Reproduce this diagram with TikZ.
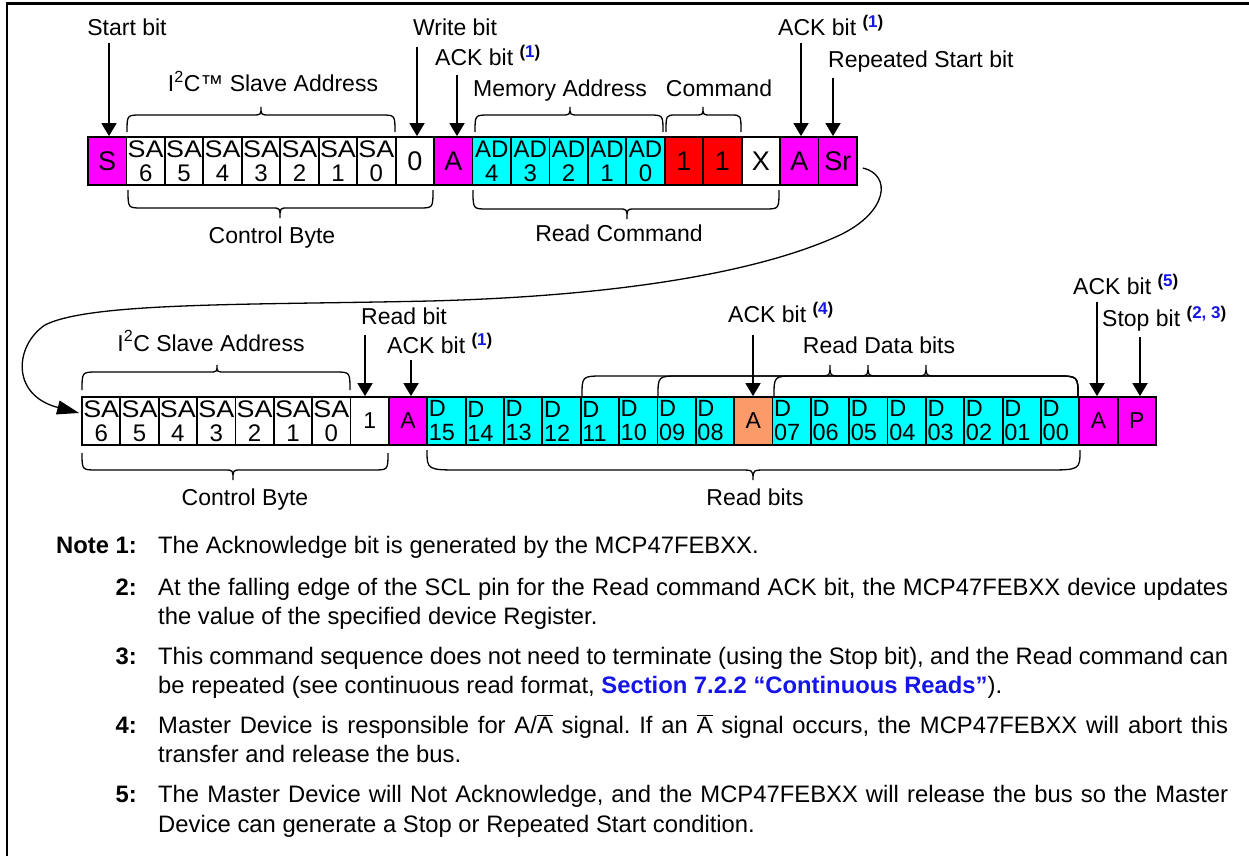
\documentclass[tikz,border=0pt]{standalone}
\usepackage{fontspec}
\usepackage{graphicx}
\setmainfont{Liberation Sans}
\usetikzlibrary{arrows.meta,calc}
\definecolor{mag}{RGB}{255,0,255}
\definecolor{cya}{RGB}{0,255,255}
\definecolor{rd}{RGB}{255,0,0}
\definecolor{org}{RGB}{250,155,105}
\definecolor{supblue}{RGB}{20,20,235}
\frenchspacing
\newcommand{\fs}[1]{\fontsize{#1}{#1}\selectfont}
\newcommand{\supn}[1]{\raisebox{8pt}{\fontsize{17}{17}\selectfont\bfseries(\textcolor{supblue}{#1})}}
\newcommand{\widetxt}[1]{\scalebox{1.12}[1]{#1}}
\newcommand{\abar}{\(\overline{\mbox{A}}\)}
% brace: x1 x2 xm yend yline ytip rx tx
\newcommand{\brc}[8]{\draw[brc] (#1,-#4) .. controls (#1,-#5) .. ({#1+#7},-#5) -- ({#3-#8},-#5) .. controls (#3,-#5) .. (#3,-#6) .. controls (#3,-#5) .. ({#3+#8},-#5) -- ({#2-#7},-#5) .. controls (#2,-#5) .. (#2,-#4);}
\begin{document}
\begin{tikzpicture}[x=1pt,y=1pt,
  cell/.style={draw, line width=1.8pt, minimum width=38.45pt, minimum height=48pt, inner sep=0pt, font=\fs{27}},
  cellb/.style={cell, minimum width=38.36pt, font=\fs{23}},
  two/.style={align=center, font=\fontsize{24}{24}\selectfont},
  dd/.style={align=left, text width=35pt, font=\fontsize{23.5}{24}\selectfont},
  lab/.style={inner sep=0pt, font=\fs{23}},
  note/.style={inner sep=0pt, font=\fontsize{23.8}{28}\selectfont},
  arr/.style={line width=1.8pt, -{Triangle[length=13pt,width=15pt]}},
  brc/.style={line width=1.3pt},
]
\useasboundingbox (0,0) rectangle (1249,-856);
\draw[line width=2.5pt] (7,-856) -- (7,-3.3) -- (1249,-3.3);

% ---------- top row ----------
\def\w{38.45}
\node[cell,fill=mag] (c1) at ({88+\w*0.5},-161) {S};
\node[cell,two] (c2) at ({88+\w*1.5},-161) {\widetxt{SA}\\6};
\node[cell,two] (c3) at ({88+\w*2.5},-161) {\widetxt{SA}\\5};
\node[cell,two] (c4) at ({88+\w*3.5},-161) {\widetxt{SA}\\4};
\node[cell,two] (c5) at ({88+\w*4.5},-161) {\widetxt{SA}\\3};
\node[cell,two] (c6) at ({88+\w*5.5},-161) {\widetxt{SA}\\2};
\node[cell,two] (c7) at ({88+\w*6.5},-161) {\widetxt{SA}\\1};
\node[cell,two] (c8) at ({88+\w*7.5},-161) {\widetxt{SA}\\0};
\node[cell] (c9) at ({88+\w*8.5},-161) {0};
\node[cell,fill=mag] (c10) at ({88+\w*9.5},-161) {A};
\node[cell,two,fill=cya] (c11) at ({88+\w*10.5},-161) {AD\\4};
\node[cell,two,fill=cya] (c12) at ({88+\w*11.5},-161) {AD\\3};
\node[cell,two,fill=cya] (c13) at ({88+\w*12.5},-161) {AD\\2};
\node[cell,two,fill=cya] (c14) at ({88+\w*13.5},-161) {AD\\1};
\node[cell,two,fill=cya] (c15) at ({88+\w*14.5},-161) {AD\\0};
\node[cell,fill=rd] (c16) at ({88+\w*15.5},-161) {1};
\node[cell,fill=rd] (c17) at ({88+\w*16.5},-161) {1};
\node[cell] (c18) at ({88+\w*17.5},-161) {X};
\node[cell,fill=mag] (c19) at ({88+\w*18.5},-161) {A};
\node[cell,fill=mag] (c20) at ({88+\w*19.5},-161) {Sr};

% ---------- bottom row ----------
\def\v{38.36}
\node[cellb,two] (d1) at ({82+\v*0.5},-421) {\widetxt{SA}\\6};
\node[cellb,two] (d2) at ({82+\v*1.5},-421) {\widetxt{SA}\\5};
\node[cellb,two] (d3) at ({82+\v*2.5},-421) {\widetxt{SA}\\4};
\node[cellb,two] (d4) at ({82+\v*3.5},-421) {\widetxt{SA}\\3};
\node[cellb,two] (d5) at ({82+\v*4.5},-421) {\widetxt{SA}\\2};
\node[cellb,two] (d6) at ({82+\v*5.5},-421) {\widetxt{SA}\\1};
\node[cellb,two] (d7) at ({82+\v*6.5},-421) {\widetxt{SA}\\0};
\node[cellb] (d8) at ({82+\v*7.5},-421) {1};
\node[cellb,fill=mag] (d9) at ({82+\v*8.5},-421) {A};
\node[cellb,dd,fill=cya] (d10) at ({82+\v*9.5},-421) {D\\15};
\node[cellb,dd,fill=cya] (d11) at ({82+\v*10.5},-421) {D\\14};
\node[cellb,dd,fill=cya] (d12) at ({82+\v*11.5},-421) {D\\13};
\node[cellb,dd,fill=cya] (d13) at ({82+\v*12.5},-421) {D\\12};
\node[cellb,dd,fill=cya] (d14) at ({82+\v*13.5},-421) {D\\11};
\node[cellb,dd,fill=cya] (d15) at ({82+\v*14.5},-421) {D\\10};
\node[cellb,dd,fill=cya] (d16) at ({82+\v*15.5},-421) {D\\09};
\node[cellb,dd,fill=cya] (d17) at ({82+\v*16.5},-421) {D\\08};
\node[cellb,fill=org] (d18) at ({82+\v*17.5},-421) {A};
\node[cellb,dd,fill=cya] (d19) at ({82+\v*18.5},-421) {D\\07};
\node[cellb,dd,fill=cya] (d20) at ({82+\v*19.5},-421) {D\\06};
\node[cellb,dd,fill=cya] (d21) at ({82+\v*20.5},-421) {D\\05};
\node[cellb,dd,fill=cya] (d22) at ({82+\v*21.5},-421) {D\\04};
\node[cellb,dd,fill=cya] (d23) at ({82+\v*22.5},-421) {D\\03};
\node[cellb,dd,fill=cya] (d24) at ({82+\v*23.5},-421) {D\\02};
\node[cellb,dd,fill=cya] (d25) at ({82+\v*24.5},-421) {D\\01};
\node[cellb,dd,fill=cya] (d26) at ({82+\v*25.5},-421) {D\\00};
\node[cellb,fill=mag] (d27) at ({82+\v*26.5},-421) {A};
\node[cellb,fill=mag] (d28) at ({82+\v*27.5},-421) {P};

% ---------- labels top ----------
\node[lab,anchor=base] (lstart) at (127,-36) {Start bit};
\node[lab,anchor=base] (li2c) at (273,-92) {I\textsuperscript{2}C™ Slave Address};
\node[lab,anchor=base] (lwrite) at (455,-36) {Write bit};
\node[lab,anchor=base west] (lack1) at (435,-66) {ACK bit \supn{1}};
\node[lab,anchor=base] (lmem) at (560,-97) {Memory Address};
\node[lab,anchor=base] (lcmd) at (719,-97) {Command};
\node[lab,anchor=base] (lcb1) at (272,-243) {Control Byte};
\node[lab,anchor=base] (lrc) at (619,-241) {Read Command};
\node[lab,anchor=base west] (lack2) at (778,-36) {ACK bit \supn{1}};
\node[lab,anchor=base west] (lrs) at (828,-68) {Repeated Start bit};

% ---------- labels bottom ----------
\node[lab,anchor=base] (li2cb) at (211,-351) {I\textsuperscript{2}C Slave Address};
\node[lab,anchor=base] (lread) at (404,-324) {Read bit};
\node[lab,anchor=base west] (lack3) at (387,-353) {ACK bit \supn{1}};
\node[lab,anchor=base west] (lack4) at (728,-322) {ACK bit \supn{4}};
\node[lab,anchor=base] (lrdb) at (879,-353) {Read Data bits};
\node[lab,anchor=base west] (lack5) at (1073,-294) {ACK bit \supn{5}};
\node[lab,anchor=base west] (lstop) at (1102,-326) {Stop bit \supn{2, 3}};
\node[lab,anchor=base] (lcb2) at (245,-505) {Control Byte};
\node[lab,anchor=base] (lrb) at (755,-505) {Read bits};

% ---------- arrows ----------
\coordinate (a1) at (109,-43);
\coordinate (a2) at (417,-47);
\coordinate (a3) at (457,-75);
\coordinate (a4) at (801,-43);
\coordinate (a5) at (833,-78);
\coordinate (b1) at (365,-335);
\coordinate (b2) at (411,-360);
\coordinate (b3) at (753,-335);
\coordinate (b4) at (1097,-302);
\coordinate (b5) at (1140,-337);
\draw[arr] (a1) -- (a1 |- c1.north);
\draw[arr] (a2) -- (a2 |- c9.north);
\draw[arr] (a3) -- (a3 |- c10.north);
\draw[arr] (a4) -- (a4 |- c19.north);
\draw[arr] (a5) -- (a5 |- c20.north);
\draw[arr] (b1) -- (b1 |- d8.north);
\draw[arr] (b2) -- (b2 |- d9.north);
\draw[arr] (b3) -- (b3 |- d18.north);
\draw[arr] (b4) -- (b4 |- d27.north);
\draw[arr] (b5) -- (b5 |- d28.north);

% ---------- braces ----------
\brc{127}{395}{261}{132}{115}{107}{14}{9}
\brc{475}{663}{570}{132}{115}{107}{14}{9}
\brc{666}{741}{703}{132}{115}{107}{10}{8}
\brc{128}{433}{280}{190}{208}{218}{14}{8}
\brc{473}{779}{627}{190}{209}{219}{14}{8}
\brc{82}{350}{217}{390}{372}{365}{15}{8}
\brc{82}{388}{233}{453}{470}{480}{15}{8}
\brc{427}{1080}{753}{450}{470}{480}{35}{13}
\brc{582}{1078}{830}{396}{376}{365}{22}{10}
\brc{658}{1078}{868}{396}{376}{365}{22}{10}
\brc{774}{1078}{926}{396}{376}{365}{22}{10}

% ---------- loop connector ----------
\coordinate (cs) at ($(c20.east)+(5,-7)$);
\coordinate (ce) at ($(d1.west)+(-2,8)$);
\draw[line width=1.3pt, -{Triangle[length=22pt,width=14pt]}] (cs) .. controls (892,-175) and (888,-212) .. (840,-235) .. controls (760,-272) and (620,-296) .. (430,-301) .. controls (250,-305) and (90,-302) .. (45,-325) .. controls (15,-345) and (10,-395) .. (ce);

% ---------- notes ----------
\node[note,anchor=base east] (n1) at (137,-553) {\bfseries Note 1:};
\node[note,anchor=base west] (t1) at (158,-553) {The Acknowledge bit is generated by the MCP47FEBXX.};
\node[note,anchor=base east] (n2) at (137,-595) {\bfseries 2:};
\node[note,anchor=base west] (t2a) at (158,-595) {\makebox[1070pt][s]{At the falling edge of the SCL pin for the Read command ACK bit, the MCP47FEBXX device updates}};
\node[note,anchor=base west] (t2b) at (158,-624) {the value of the specified device Register.};
\node[note,anchor=base east] (n3) at (137,-664) {\bfseries 3:};
\node[note,anchor=base west] (t3a) at (158,-664) {\makebox[1070pt][s]{This command sequence does not need to terminate (using the Stop bit), and the Read command can}};
\node[note,anchor=base west] (t3b) at (158,-693) {be repeated (see continuous read format, \textcolor{supblue}{\bfseries Section 7.2.2 “Continuous Reads”}).};
\node[note,anchor=base east] (n4) at (137,-733) {\bfseries 4:};
\node[note,anchor=base west] (t4a) at (158,-733) {\makebox[1070pt][s]{Master Device is responsible for A/\abar{} signal. If an \abar{} signal occurs, the MCP47FEBXX will abort this}};
\node[note,anchor=base west] (t4b) at (158,-762) {transfer and release the bus.};
\node[note,anchor=base east] (n5) at (137,-802) {\bfseries 5:};
\node[note,anchor=base west] (t5a) at (158,-802) {\makebox[1070pt][s]{The Master Device will Not Acknowledge, and the MCP47FEBXX will release the bus so the Master}};
\node[note,anchor=base west] (t5b) at (158,-832) {Device can generate a Stop or Repeated Start condition.};
\end{tikzpicture}
\end{document}
